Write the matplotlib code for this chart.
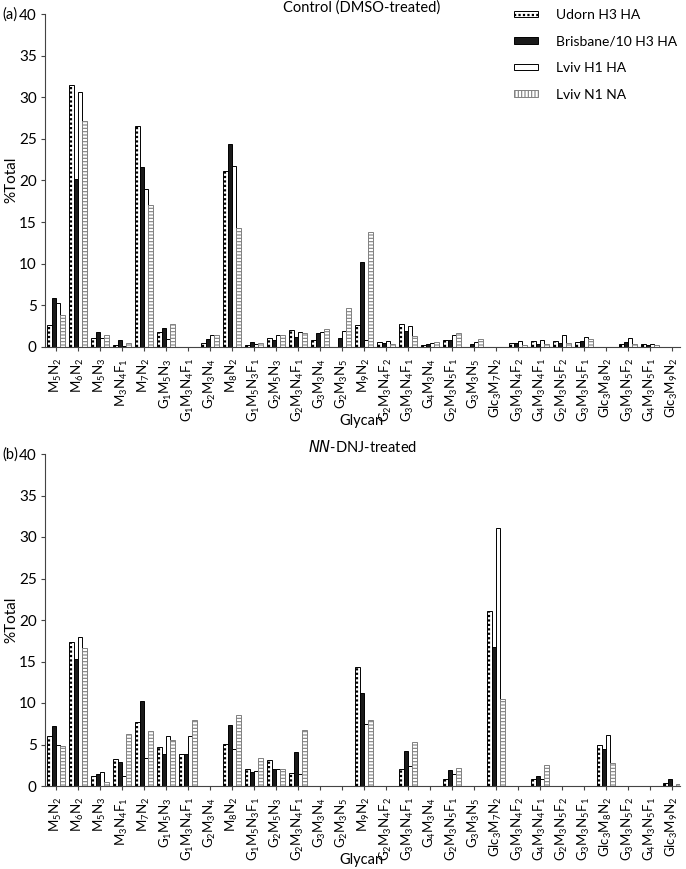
import re
import matplotlib
matplotlib.use("Agg")
import matplotlib.pyplot as plt
import numpy as np
from matplotlib.patches import Rectangle
from matplotlib.lines import Line2D
from matplotlib.legend_handler import HandlerTuple

plt.rcParams['font.family'] = ['Lato', 'DejaVu Sans']
plt.rcParams['mathtext.default'] = 'regular'
plt.rcParams['hatch.linewidth'] = 0.8

glycans = ["M5N2", "M6N2", "M5N3", "M3N4F1", "M7N2", "G1M5N3", "G1M3N4F1", "G2M3N4",
           "M8N2", "G1M5N3F1", "G2M5N3", "G2M3N4F1", "G3M3N4", "G2M3N5", "M9N2",
           "G2M3N4F2", "G3M3N4F1", "G4M3N4", "G2M3N5F1", "G3M3N5", "Glc3M7N2",
           "G3M3N4F2", "G4M3N4F1", "G2M3N5F2", "G3M3N5F1", "Glc3M8N2", "G3M3N5F2",
           "G4M3N5F1", "Glc3M9N2"]
series = ["Udorn H3 HA", "Brisbane/10 H3 HA", "Lviv H1 HA", "Lviv N1 NA"]

# (a) Control (DMSO-treated)
ctrl_udorn = [2.7, 31.5, 1.1, 0.3, 26.5, 1.8, 0, 0.5, 21.1, 0.3, 1.1, 2.1, 0.8, 0, 2.7,
              0.6, 2.8, 0.2, 0.8, 0, 0, 0.5, 0.7, 0.7, 0.6, 0, 0.4, 0.4, 0]
ctrl_brisbane = [5.9, 20.2, 1.8, 0.8, 21.6, 2.3, 0, 1.0, 24.4, 0.6, 0.9, 1.2, 1.7, 1.1, 10.2,
                 0.5, 1.9, 0.4, 0.8, 0.4, 0, 0.5, 0.4, 0.5, 0.7, 0, 0.6, 0.3, 0]
ctrl_h1 = [5.3, 30.6, 1.1, 0.1, 19.0, 1.0, 0, 1.4, 21.8, 0.4, 1.4, 1.8, 1.8, 1.9, 0.9,
           0.7, 2.5, 0.5, 1.4, 0.6, 0, 0.7, 0.8, 1.5, 1.2, 0, 1.1, 0.4, 0]
ctrl_n1 = [3.8, 27.1, 1.5, 0.5, 17.1, 2.8, 0, 1.4, 14.3, 0.5, 1.4, 1.7, 2.2, 4.7, 13.8,
           0.4, 1.3, 0.6, 1.7, 1.0, 0, 0.3, 0.4, 0.5, 1.0, 0, 0.4, 0.3, 0]

# (b) NN-DNJ-treated
dnj_udorn = [6.0, 17.3, 1.2, 3.2, 7.7, 4.7, 3.9, 0, 5.1, 2.0, 3.1, 1.6, 0, 0, 14.3,
             0, 2.1, 0, 0.9, 0, 21.1, 0, 0.8, 0, 0, 5.0, 0, 0, 0.4]
dnj_brisbane = [7.2, 15.3, 1.4, 2.9, 10.3, 3.9, 3.8, 0, 7.4, 1.7, 2.1, 4.1, 0, 0, 11.2,
                0, 4.2, 0, 1.9, 0, 16.8, 0, 1.2, 0, 0, 4.4, 0, 0, 0.8]
dnj_h1 = [5.0, 18.0, 1.7, 1.2, 3.4, 6.0, 6.0, 0, 4.4, 1.8, 2.1, 1.4, 0, 0, 7.5,
          0, 2.4, 0, 1.4, 0, 31.1, 0, 0.8, 0, 0, 6.2, 0, 0, 0.05]
dnj_n1 = [4.8, 16.6, 0.5, 6.3, 6.6, 5.5, 8.0, 0, 8.5, 3.4, 2.1, 6.8, 0, 0, 8.0,
          0, 5.3, 0, 2.2, 0, 10.5, 0, 2.5, 0, 0, 2.8, 0, 0, 0.2]


def to_math(name):
    return re.sub(r"(\d+)", r"$_{\1}$", name)


W, H = 686, 869
fig = plt.figure(figsize=(W / 100, H / 100), dpi=100)


def axes_px(left, top, right, bottom):
    return fig.add_axes([left / W, 1 - bottom / H, (right - left) / W, (bottom - top) / H])


def px_text(x, y, s, **kw):
    fig.text(x / W, 1 - y / H, s, **kw)


def draw_panel(ax, udorn, brisbane, h1, n1):
    x = np.arange(len(glycans))
    w = 0.2
    ax.bar(x - 1.5 * w, udorn, w, color="white", edgecolor="black", linewidth=0.7)
    ax.vlines(x - 1.5 * w, 0, udorn, colors="black", linewidth=1.6,
              linestyles=(0, (1, 1)))
    ax.bar(x - 0.5 * w, brisbane, w, color="#1a1a1a", edgecolor="black", linewidth=0.7)
    ax.bar(x + 0.5 * w, h1, w, color="white", edgecolor="black", linewidth=0.7)
    ax.bar(x + 1.5 * w, n1, w, color="white", edgecolor="#808080", linewidth=0.7,
           hatch="-----")
    ax.set_xlim(-0.5, 28.36)
    ax.set_ylim(0, 40)
    ax.set_yticks(range(0, 41, 5))
    ax.set_xticks(x)
    ax.set_xticklabels([to_math(g) for g in glycans], rotation=90, fontsize=9.5)
    ax.tick_params(axis="both", direction="out", length=3, width=0.8, color="#444444")
    ax.tick_params(axis="x", pad=5)
    ax.tick_params(axis="y", labelsize=11, pad=3)
    for s in ["top", "right"]:
        ax.spines[s].set_visible(False)
    for s in ["left", "bottom"]:
        ax.spines[s].set_linewidth(0.8)
        ax.spines[s].set_color("#444444")


ax1 = axes_px(45, 14, 680, 347)
draw_panel(ax1, ctrl_udorn, ctrl_brisbane, ctrl_h1, ctrl_n1)
ax2 = axes_px(45, 454, 680, 786)
draw_panel(ax2, dnj_udorn, dnj_brisbane, dnj_h1, dnj_n1)

px_text(2, 15, "(a)", ha="left", va="center", fontsize=10.5)
px_text(362, 8, "Control (DMSO-treated)", ha="center", va="center", fontsize=10.5)
px_text(2, 455, "(b)", ha="left", va="center", fontsize=10.5)
px_text(362, 447, "$\\it{NN}$-DNJ-treated", ha="center", va="center", fontsize=10.5)

# axis titles
px_text(11, 180, "%Total", ha="center", va="center", rotation=90, fontsize=11)
px_text(361, 421, "Glycan", ha="center", va="center", fontsize=10.5)
px_text(11, 620, "%Total", ha="center", va="center", rotation=90, fontsize=11)
px_text(361, 860, "Glycan", ha="center", va="center", fontsize=10.5)

handles = [
    (Rectangle((0, 0), 1, 1, facecolor="white", edgecolor="black", linewidth=0.7),
     Line2D([0], [0], color="black", linewidth=1.6, linestyle=(0, (1, 1)))),
    Rectangle((0, 0), 1, 1, facecolor="#1a1a1a", edgecolor="black", linewidth=0.7),
    Rectangle((0, 0), 1, 1, facecolor="white", edgecolor="black", linewidth=0.7),
    Rectangle((0, 0), 1, 1, facecolor="white", edgecolor="#808080", linewidth=0.7, hatch="|||||"),
]
fig.legend(handles, series, loc="upper left", bbox_to_anchor=(507 / W, 1 - 2 / H),
           frameon=False, fontsize=10, handlelength=1.7, handleheight=0.35,
           handletextpad=1.3, labelspacing=1.05, borderpad=0,
           handler_map={tuple: HandlerTuple(ndivide=1, pad=0)})

fig.savefig("out.png", dpi=100)
